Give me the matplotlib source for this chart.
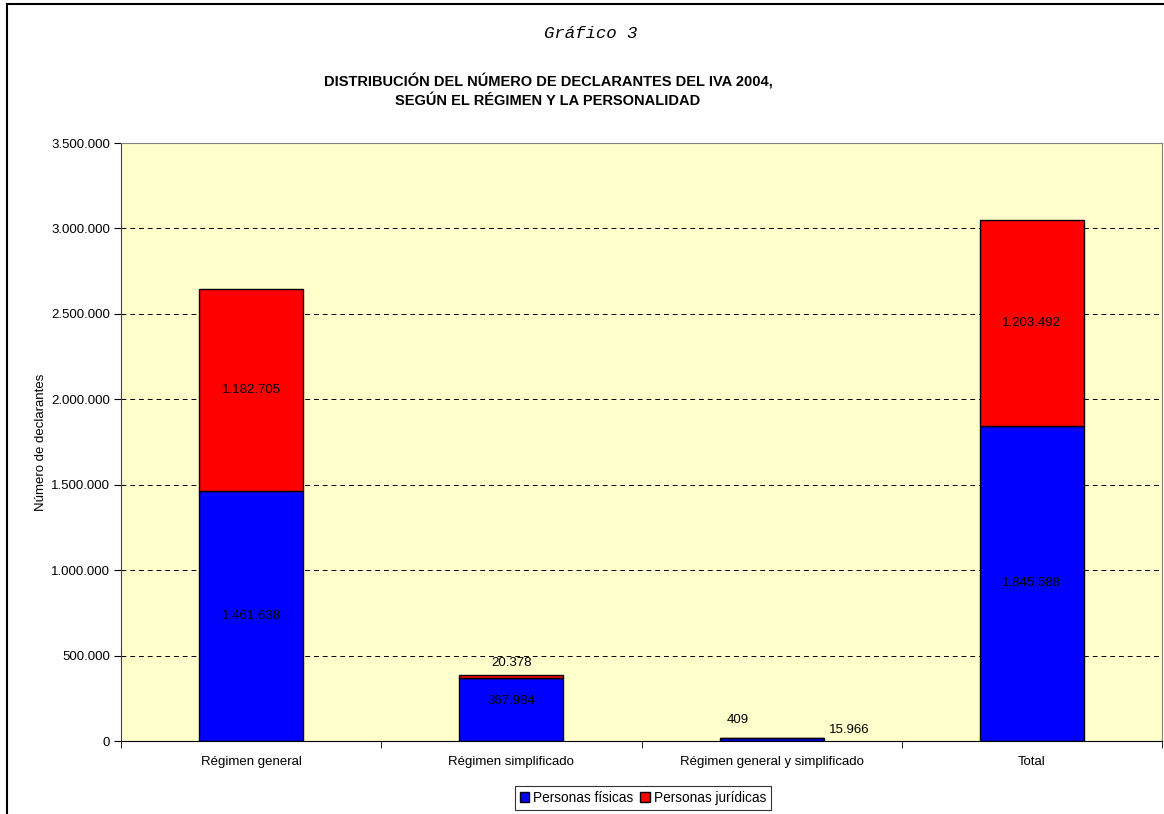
import matplotlib.pyplot as plt
from matplotlib.lines import Line2D
from matplotlib.ticker import FuncFormatter, FixedLocator
import numpy as np

plt.rcParams['font.family'] = ['Liberation Sans', 'DejaVu Sans']

# ---------------------------
# DATA
# ---------------------------
categories = ["Régimen general", "Régimen simplificado",
              "Régimen general y simplificado", "Total"]
fisicas = [1461638, 367984, 15966, 1845588]
juridicas = [1182705, 20378, 409, 1203492]
series_names = ["Personas físicas", "Personas jurídicas"]
colors = ["#0000FF", "#FF0000"]


def miles(v):
    return f"{int(round(v)):,}".replace(",", ".")


fig = plt.figure(figsize=(11.64, 8.14), dpi=100)
ax = fig.add_axes([121 / 1164, 73 / 814, 1041 / 1164, 598 / 814])
ax.set_facecolor("#FFFFCC")

x = np.arange(len(categories))
b1 = ax.bar(x, fisicas, width=0.4, color=colors[0], edgecolor="black",
            linewidth=1, label=series_names[0], zorder=3)
b2 = ax.bar(x, juridicas, width=0.4, bottom=fisicas, color=colors[1],
            edgecolor="black", linewidth=1, label=series_names[1], zorder=3)

ax.set_xlim(-0.5, len(categories) - 0.5)
ax.set_ylim(0, 3500000)
ax.yaxis.set_major_locator(FixedLocator(np.arange(0, 3500001, 500000)))
ax.yaxis.set_major_formatter(FuncFormatter(lambda v, p: miles(v)))
ax.grid(axis="y", color="black", linestyle=(0, (5, 4)), linewidth=0.7, zorder=1)

ax.set_xticks(x)
ax.set_xticklabels(categories, fontsize=9.5)
ax.set_xticks(np.arange(-0.5, len(categories)), minor=True)
ax.tick_params(axis="x", which="major", length=0, pad=11)
ax.tick_params(axis="x", which="minor", length=5, direction="out", color="black")
ax.tick_params(axis="y", labelsize=9.5, length=5, direction="out", pad=3)

for s in ["top", "right"]:
    ax.spines[s].set_color("#808080")
ax.spines["left"].set_color("#404040")
ax.spines["bottom"].set_color("black")

ax.set_ylabel("Número de declarantes", fontsize=9.5, labelpad=3)

# data labels
lbl = dict(ha="center", va="center", fontsize=9.5, zorder=5)
for i in [0, 3]:
    ax.text(x[i], fisicas[i] / 2, miles(fisicas[i]), **lbl)
    ax.text(x[i], fisicas[i] + juridicas[i] / 2, miles(juridicas[i]), **lbl)
ax.text(x[1], fisicas[1] / 2 + 50000, miles(fisicas[1]), **lbl)
ax.text(x[1], fisicas[1] + juridicas[1] + 70000, miles(juridicas[1]), **lbl)
ax.text(x[2] - 0.13, 123000, miles(juridicas[2]), **lbl)
ax.text(x[2] + 0.3, 65000, miles(fisicas[2]), **lbl)

# titles
fig.text(591 / 1164, 1 - 34 / 814, "Gráfico 3", ha="center", va="center",
         fontsize=12.5, style="italic", family="Liberation Mono")
fig.text(548 / 1164, 1 - 91 / 814,
         "DISTRIBUCIÓN DEL NÚMERO DE DECLARANTES DEL IVA 2004,\nSEGÚN EL RÉGIMEN Y LA PERSONALIDAD",
         ha="center", va="center", fontsize=10.5, fontweight="bold", linespacing=1.45)

leg = fig.legend(handles=[b1, b2], labels=series_names, loc="center",
                 bbox_to_anchor=(643 / 1164, 1 - 798 / 814), ncol=2, fontsize=9.8,
                 frameon=True, fancybox=False, edgecolor="black",
                 handlelength=0.7, handleheight=0.7, handletextpad=0.3,
                 columnspacing=0.5, borderpad=0.35, borderaxespad=0)
leg.get_frame().set_linewidth(0.8)

# outer chart border
fig.add_artist(Line2D([7 / 1164, 7 / 1164], [0, 1 - 4 / 814], color="black",
                      linewidth=1.5, transform=fig.transFigure))
fig.add_artist(Line2D([7 / 1164, 1], [1 - 4 / 814, 1 - 4 / 814], color="black",
                      linewidth=1.5, transform=fig.transFigure))

fig.savefig("out.png", dpi=100)
